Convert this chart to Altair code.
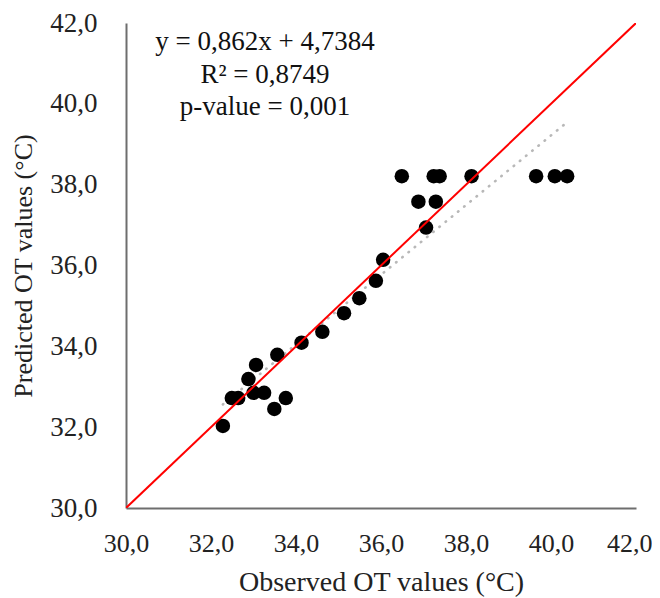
import altair as alt
import pandas as pd

# Observed vs predicted OT values (°C)
observed = [32.28, 32.49, 32.64, 32.88, 33.06, 33.00, 33.25, 33.49, 33.76, 33.56,
            34.13, 34.62, 35.13, 35.49, 35.88, 36.05, 36.49, 36.88, 37.29, 37.24,
            37.38, 37.06, 38.13, 39.65, 40.09, 40.38]
predicted = [32.03, 32.72, 32.72, 33.19, 33.54, 32.85, 32.85, 32.45, 32.72, 33.79,
             34.09, 34.36, 34.82, 35.19, 35.62, 36.14, 38.21, 37.58, 37.58, 38.21,
             38.21, 36.94, 38.21, 38.21, 38.21, 38.21]

# Stated linear trendline
slope = 0.862
intercept = 4.7384
trend_x = [min(observed), max(observed)]

# 1:1 reference line
ref_vals = [30.0, 42.0]

ticks = [30, 32, 34, 36, 38, 40, 42]

ann_text = ["y = 0,862x + 4,7384", "R\u00b2 = 0,8749", "p-value = 0,001"]
ann_x = [33.27, 33.27, 33.27]
ann_y = [41.53, 40.71, 39.92]

pts = pd.DataFrame({"obs": observed, "pred": predicted})
trend = pd.DataFrame({"obs": trend_x})
ref = pd.DataFrame({"obs": ref_vals, "pred": ref_vals})
ann = pd.DataFrame({"t": ann_text, "x": ann_x, "y": ann_y})

FONT = "Liberation Serif"
lbl = "replace(format(datum.value, '.1f'), '.', ',')"

xs = alt.Scale(domain=[30, 42], nice=False, zero=False)
ys = alt.Scale(domain=[30, 42], nice=False, zero=False)

xaxis = alt.Axis(values=ticks, labelExpr=lbl, grid=False, ticks=False, tickSize=0,
                 labelFlush=False, labelOverlap=False,
                 labelAlign=alt.condition("datum.value == 42", alt.value("right"), alt.value("center")),
                 labelOffset=alt.condition("datum.value == 42", alt.value(16), alt.value(0)),
                 labelPadding=22, labelFontSize=26, labelFont=FONT, labelColor="#222222",
                 domainColor="#6e6e6e", domainWidth=2,
                 title="Observed OT values (\u00b0C)", titleFont=FONT, titleFontSize=28,
                 titleFontWeight="normal", titleColor="#222222",
                 titleBaseline="alphabetic", titleY=82)
yaxis = alt.Axis(values=ticks, labelExpr=lbl, grid=False, ticks=False, tickSize=0,
                 labelFlush=False, labelOverlap=False,
                 labelPadding=29, labelFontSize=27, labelFont=FONT, labelColor="#222222",
                 domainColor="#6e6e6e", domainWidth=2,
                 title="Predicted OT values (\u00b0C)", titleFont=FONT, titleFontSize=26,
                 titleFontWeight="normal", titleColor="#222222",
                 titleBaseline="alphabetic", titleX=-95, titleAngle=270)

trend_layer = alt.Chart(trend).transform_calculate(
    pred=f"{slope} * datum.obs + {intercept}"
).mark_line(color="#b8b8b8", strokeWidth=2.6, strokeDash=[0.5, 7.5], strokeCap="round").encode(
    x=alt.X("obs:Q", scale=xs, axis=xaxis),
    y=alt.Y("pred:Q", scale=ys, axis=yaxis),
)

points = alt.Chart(pts).mark_circle(color="black", opacity=1, size=210).encode(
    x=alt.X("obs:Q", scale=xs),
    y=alt.Y("pred:Q", scale=ys),
)

ref_layer = alt.Chart(ref).mark_line(color="#ff0000", strokeWidth=2, clip=True).encode(
    x=alt.X("obs:Q", scale=xs),
    y=alt.Y("pred:Q", scale=ys),
)

text = alt.Chart(ann).mark_text(font=FONT, fontSize=27, color="#111111",
                                align="center", baseline="middle").encode(
    x=alt.X("x:Q", scale=xs),
    y=alt.Y("y:Q", scale=ys),
    text="t:N",
)

chart = alt.layer(trend_layer, points, ref_layer, text).properties(
    width=510, height=485,
    autosize=alt.AutoSizeParams(type="none"),
    padding={"left": 118, "top": 15, "right": 16, "bottom": 90},
).configure_view(stroke=None)

chart.save("out.html", embed_options={"renderer": "svg", "actions": False})
